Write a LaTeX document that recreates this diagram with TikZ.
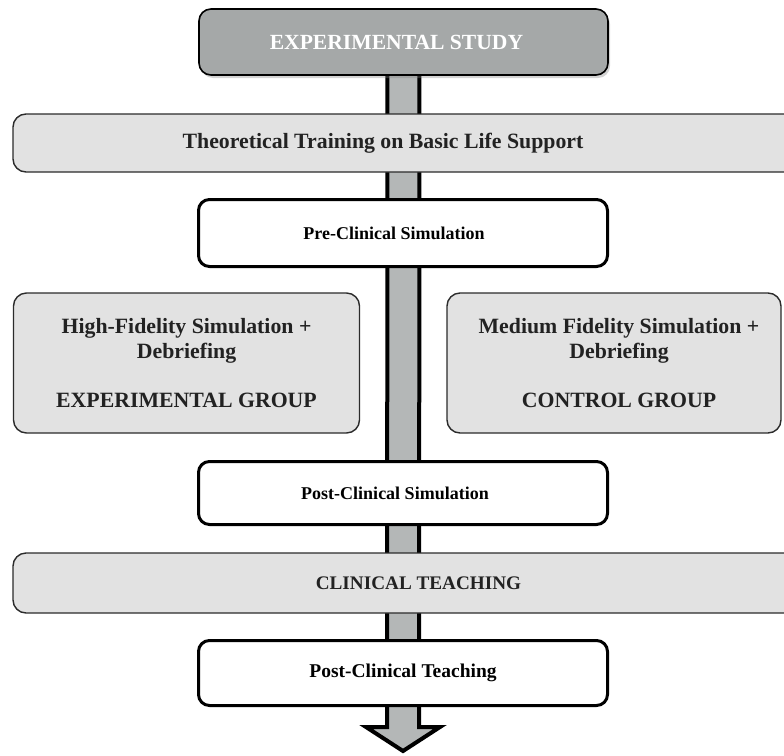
\documentclass[tikz,border=0pt]{standalone}
\usepackage{fontspec}
\setmainfont{Liberation Serif}
\usetikzlibrary{shadows,calc}
\definecolor{topgray}{HTML}{A5A8A8}
\definecolor{lightbox}{HTML}{E2E2E2}
\definecolor{arrowgray}{HTML}{B4B7B7}
\definecolor{edgegray}{HTML}{2B2B2B}
\definecolor{txtgray}{HTML}{222222}
\begin{document}
\begin{tikzpicture}[x=1pt,y=-1pt,
  bigfont/.style={font=\fontsize{21.8}{25}\selectfont\bfseries},
  smallfont/.style={font=\fontsize{18}{22}\selectfont\bfseries},
  topbox/.style={draw=black, line width=1.6pt, fill=topgray, rounded corners=12pt,
    text=white, font=\fontsize{21.6}{25}\selectfont\bfseries, inner sep=0pt,
    drop shadow={opacity=0.35, shadow xshift=2pt, shadow yshift=-3pt}},
  graybox/.style={draw=edgegray, line width=1.4pt, fill=lightbox, rounded corners=13pt,
    text=txtgray, bigfont, align=center, inner sep=0pt},
  whitebox/.style={draw=black, line width=3pt, fill=white, rounded corners=11pt,
    text=black, smallfont, inner sep=0pt},
  blockarrow/.style={draw=black, line width=4pt, fill=arrowgray, line join=miter},
  boxtext/.style={text=txtgray, bigfont, inner sep=0pt}
]
\useasboundingbox (0,0) rectangle (784,755);

\coordinate (tip) at (403,751);
\path (403.5,42) coordinate (studyc);

% big arrow behind everything
\draw[blockarrow] ($(studyc)+(-16,20)$) -- ($(tip)+(-16,-24)$) -- ($(tip)+(-37,-24)$)
  -- (tip) -- ($(tip)+(37,-24)$) -- ($(tip)+(16,-24)$) -- ($(studyc)+(16,20)$);

\node[topbox, minimum width=409pt, minimum height=66pt] (study) at (studyc)
  {EXPERIMENTAL STUDY\hspace*{14pt}};

\node[graybox, minimum width=786pt, minimum height=58pt] (theory) at (406,143) {};
\node[boxtext] (theorytxt) at (383,143) {Theoretical Training on Basic Life Support};

\node[whitebox, minimum width=409pt, minimum height=67pt] (pre) at (403,233)
  {Pre-Clinical Simulation\hspace*{18pt}};

\node[graybox, minimum width=346pt, minimum height=140pt] (high) at (186.5,363)
  {High-Fidelity Simulation +\\Debriefing\\[24pt]EXPERIMENTAL GROUP};
\node[graybox, minimum width=334pt, minimum height=140pt] (medium) at (614,363)
  {\hspace*{10pt}Medium Fidelity Simulation +\\\hspace*{10pt}Debriefing\\[24pt]\hspace*{10pt}CONTROL GROUP};

\node[whitebox, minimum width=409pt, minimum height=63pt] (postsim) at (403,493)
  {Post-Clinical Simulation\hspace*{16pt}};

\node[graybox, minimum width=786pt, minimum height=60pt] (clinical) at (406,583) {};
\node[boxtext, font=\fontsize{19.2}{23}\selectfont\bfseries] (clinicaltxt) at (418.5,583) {CLINICAL TEACHING};

\node[whitebox, font=\fontsize{19.5}{23}\selectfont\bfseries, minimum width=409pt, minimum height=65pt] (postteach) at (403,673)
  {Post-Clinical Teaching};
\end{tikzpicture}
\end{document}
